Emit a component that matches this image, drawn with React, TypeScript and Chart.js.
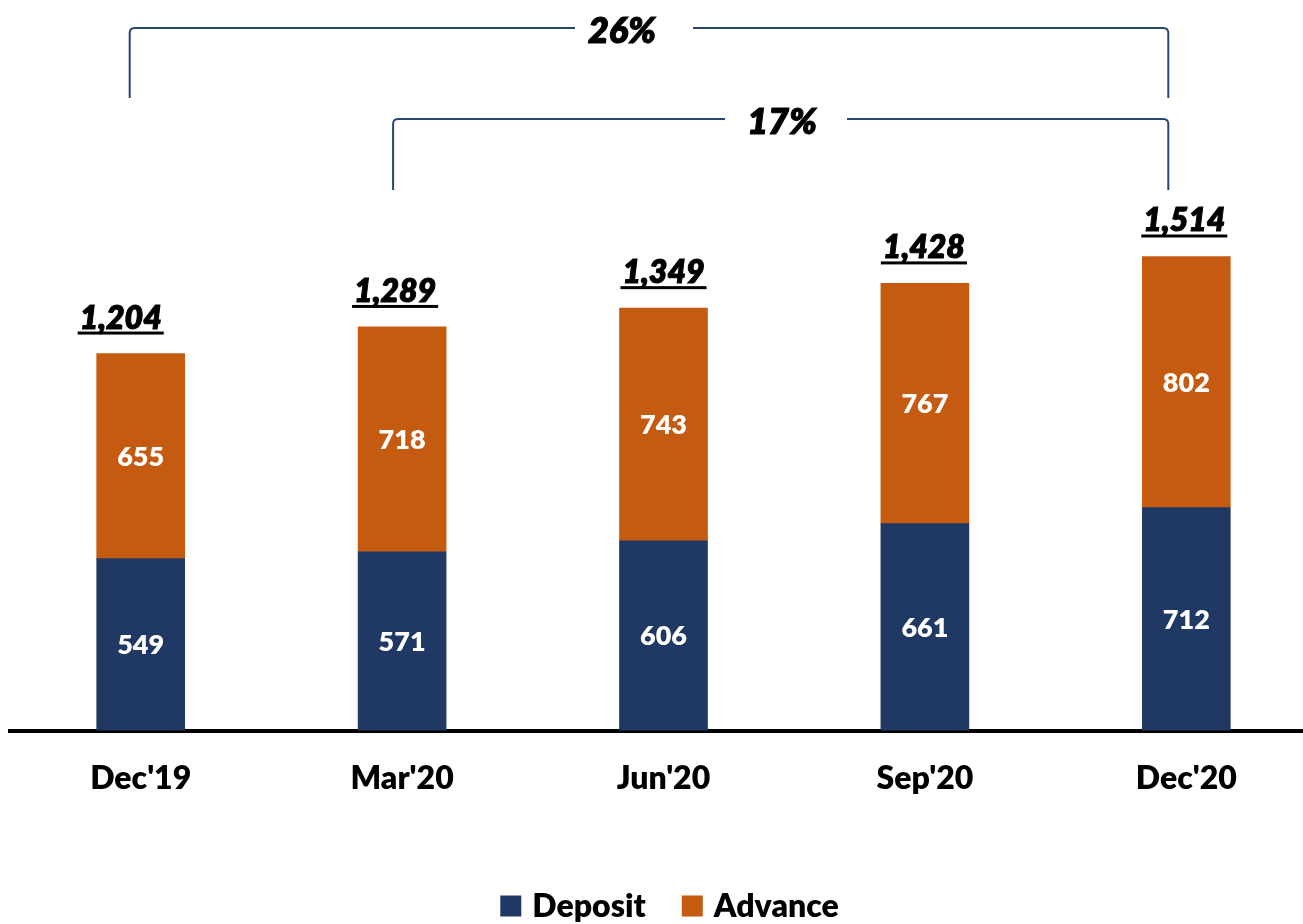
import React, { useEffect, useRef } from 'react';
import { Chart, registerables } from 'chart.js';

Chart.register(...registerables);

// ---- data ----
const categories = ["Dec'19", "Mar'20", "Jun'20", "Sep'20", "Dec'20"];
const deposit = [549, 571, 606, 661, 712];
const advance = [655, 718, 743, 767, 802];
const totals = [1204, 1289, 1349, 1428, 1514];
const growthLabels = ['26%', '17%'];
const growthFrom = [0, 1];
const growthTo = [4, 4];
const seriesNames = ['Deposit', 'Advance'];

// ---- style ----
const NAVY = '#203864';
const ORANGE = '#C55A11';
const BRACKET = '#2A4572';
const FONT = 'Lato, "Open Sans", "Noto Sans", sans-serif';
const W = 800;
const totalDx = [-20, -7, 0, -1, -2];
const bracketTopY = [28, 119];
const bracketBottomY = [98, 190];
const bracketLeftDx = [-11, -9];
const bracketRightDx = [-18, -18];
const bracketTextX = [622, 782];
const bracketGap = [[575, 693], [725, 847]];

const overlayPlugin = {
  id: 'overlay',
  afterDatasetsDraw(chart: any) {
    const ctx = chart.ctx as CanvasRenderingContext2D;
    const xs = chart.scales.x;
    const ys = chart.scales.y;
    ctx.save();
    // segment values
    ctx.fillStyle = '#ffffff';
    ctx.font = `${W} 27px ${FONT}`;
    ctx.textAlign = 'center';
    ctx.textBaseline = 'middle';
    chart.data.datasets.forEach((ds: any, di: number) => {
      const meta = chart.getDatasetMeta(di);
      meta.data.forEach((bar: any, i: number) => {
        const cy = (bar.y + bar.base) / 2;
        ctx.fillText(String(ds.data[i]), bar.x, cy + 1);
      });
    });
    // totals
    ctx.fillStyle = '#000';
    ctx.strokeStyle = '#000';
    ctx.lineWidth = 1;
    ctx.font = `italic ${W} 32px ${FONT}`;
    ctx.textBaseline = 'alphabetic';
    totals.forEach((t, i) => {
      const x = xs.getPixelForValue(i) + totalDx[i];
      const top = ys.getPixelForValue(t);
      const txt = t.toLocaleString('en-US');
      ctx.fillText(txt, x, top - 25);
      ctx.strokeText(txt, x, top - 25);
      const w = ctx.measureText(txt).width;
      ctx.fillRect(x - w / 2 - 2, top - 22, w + 4, 3);
    });
    // brackets
    const r = 5;
    growthLabels.forEach((lab, k) => {
      const L = xs.getPixelForValue(growthFrom[k]) + bracketLeftDx[k];
      const R = xs.getPixelForValue(growthTo[k]) + bracketRightDx[k];
      const T = bracketTopY[k];
      const B = bracketBottomY[k];
      ctx.strokeStyle = BRACKET;
      ctx.lineWidth = 2;
      ctx.beginPath();
      ctx.moveTo(L, B);
      ctx.lineTo(L, T + r);
      ctx.quadraticCurveTo(L, T, L + r, T);
      ctx.lineTo(bracketGap[k][0], T);
      ctx.moveTo(bracketGap[k][1], T);
      ctx.lineTo(R - r, T);
      ctx.quadraticCurveTo(R, T, R, T + r);
      ctx.lineTo(R, B);
      ctx.stroke();
      ctx.fillStyle = '#000';
      ctx.strokeStyle = '#000';
      ctx.lineWidth = 1;
      ctx.font = `italic ${W} 36px ${FONT}`;
      ctx.textAlign = 'center';
      ctx.textBaseline = 'middle';
      ctx.fillText(lab, bracketTextX[k], T + 3);
      ctx.strokeText(lab, bracketTextX[k], T + 3);
    });
    // legend
    ctx.font = `${W} 32px ${FONT}`;
    ctx.textAlign = 'left';
    ctx.textBaseline = 'middle';
    const colors = [NAVY, ORANGE];
    const box = 21, gap = 11, itemGap = 36;
    const widths = seriesNames.map((n) => ctx.measureText(n).width);
    const total = widths.reduce((a, w) => a + box + gap + w, 0) + itemGap;
    let x = 669.5 - total / 2;
    const cy = 906;
    seriesNames.forEach((n, i) => {
      ctx.fillStyle = colors[i];
      ctx.fillRect(x, cy - box / 2, box, box);
      ctx.fillStyle = '#000';
      ctx.fillText(n, x + box + gap, cy + 1);
      x += box + gap + widths[i] + itemGap;
    });
    ctx.restore();
  },
};

export default function App() {
  const ref = useRef<HTMLCanvasElement>(null);
  useEffect(() => {
    if (!ref.current) return;
    const chart = new Chart(ref.current, {
      type: 'bar',
      data: {
        labels: categories,
        datasets: [
          { label: seriesNames[0], data: deposit, backgroundColor: NAVY, barThickness: 88 },
          { label: seriesNames[1], data: advance, backgroundColor: ORANGE, barThickness: 88 },
        ],
      },
      options: {
        responsive: false,
        animation: false,
        layout: { padding: { left: 10, right: 0, top: 0, bottom: 97 } },
        plugins: { legend: { display: false }, tooltip: { enabled: false } },
        scales: {
          x: {
            stacked: true,
            offset: true,
            grid: { display: false, drawTicks: false },
            border: { display: true, color: '#000', width: 4 },
            ticks: { color: '#000', padding: 29, font: { family: FONT, size: 32, weight: W }, maxRotation: 0, autoSkip: false },
          },
          y: {
            stacked: true,
            display: false,
            min: 0,
            max: 2333,
          },
        },
      },
      plugins: [overlayPlugin],
    } as any);
    return () => chart.destroy();
  }, []);
  return (
    <div style={{ position: 'absolute', left: 0, top: 0, width: 1303, height: 924, overflow: 'hidden', background: '#fff' }}>
      <canvas ref={ref} width={1317} height={924} style={{ display: 'block' }} />
    </div>
  );
}
